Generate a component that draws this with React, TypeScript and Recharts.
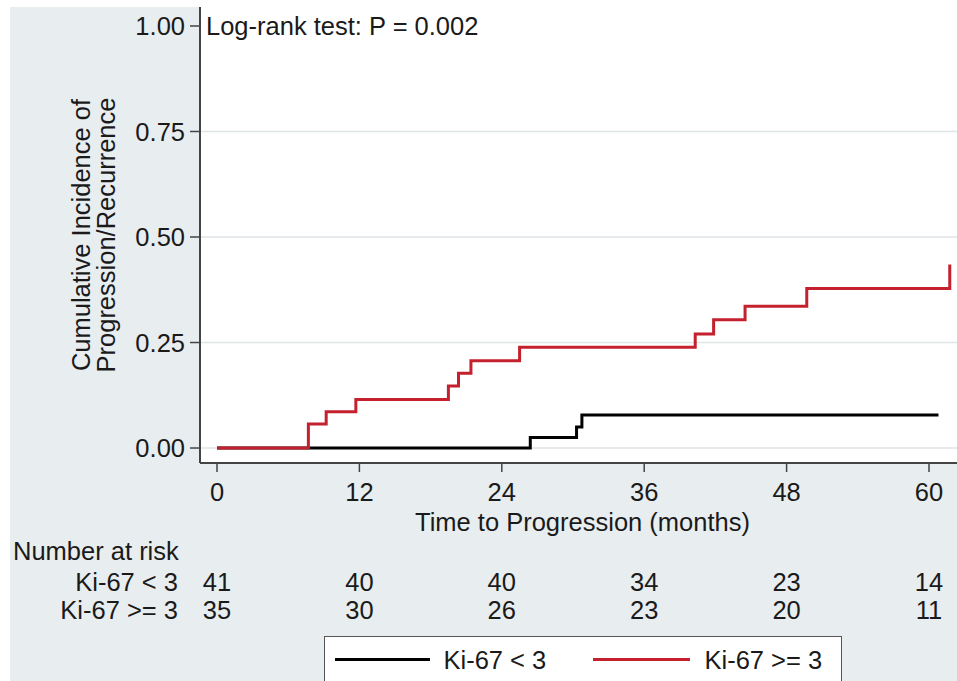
import React from 'react';
import { LineChart, Line, XAxis, YAxis, CartesianGrid, ReferenceLine, Label } from 'recharts';

// ---- data ----
const xTicks = [0, 12, 24, 36, 48, 60];
const yTicks = [0, 0.25, 0.5, 0.75, 1];
const gridValues = [0, 0.25, 0.5, 0.75];

const lowTimes = [0, 26.4, 30.3, 30.75, 60.8];
const lowValues = [0, 0.025, 0.05, 0.078, 0.078];

const highTimes = [0, 7.7, 9.2, 11.7, 19.5, 20.35, 21.4, 25.5, 40.3, 41.85, 44.5, 49.7, 61.75];
const highValues = [0, 0.057, 0.086, 0.115, 0.147, 0.177, 0.207, 0.239, 0.27, 0.304, 0.336, 0.378, 0.435];

const riskLow = [41, 40, 40, 34, 23, 14];
const riskHigh = [35, 30, 26, 23, 20, 11];

const seriesLabels = ['Ki-67 < 3', 'Ki-67 >= 3'];
const riskTitle = 'Number at risk';
const pValueText = 'Log-rank test: P = 0.002';
const xTitle = 'Time to Progression (months)';
const yTitleLines = ['Cumulative Incidence of', 'Progression/Recurrence'];

// ---- styles ----
const COLORS = ['#000000', '#c4202e'];
const TEXT = '#1a1a1a';
const FS = 25.5;
const X_DOMAIN: [number, number] = [-1.4326, 62.36];
const Y_DOMAIN: [number, number] = [-0.0355, 1.045];

const lowData = lowTimes.map((t, i) => ({ t, v: lowValues[i] }));
const highData = highTimes.map((t, i) => ({ t, v: highValues[i] }));

// main x tick: tick value plus the number-at-risk values beneath it
const XTick = (p: any) => {
  const value = p.payload?.value;
  const idx = xTicks.indexOf(value);
  return (
    <g>
      <text x={p.x} y={p.y} dy="0.71em" textAnchor="middle" fontSize={FS} fill={TEXT}>
        {value}
      </text>
      <text x={p.x} y={p.y + 107.6} textAnchor="middle" fontSize={FS} fill={TEXT}>
        {idx >= 0 ? riskLow[idx] : ''}
      </text>
      <text x={p.x} y={p.y + 136} textAnchor="middle" fontSize={FS} fill={TEXT}>
        {idx >= 0 ? riskHigh[idx] : ''}
      </text>
    </g>
  );
};

const gridGenerator = (props: any) => {
  const s = props?.yAxis?.scale;
  if (typeof s === 'function') return gridValues.map((v) => s(v));
  if (s && typeof s.map === 'function') return gridValues.map((v) => s.map(v));
  if (s && typeof s.apply === 'function') return gridValues.map((v) => s.apply(v));
  const off = props?.offset || { top: 7, height: 456 };
  const [d0, d1] = Y_DOMAIN;
  return gridValues.map((v) => off.top + off.height * (1 - (v - d0) / (d1 - d0)));
};

export default function App() {
  return (
    <div
      style={{
        position: 'absolute',
        left: 0,
        top: 0,
        width: 957,
        height: 681,
        overflow: 'hidden',
        background: '#ffffff',
        fontFamily: '"Liberation Sans", Arial, Helvetica, sans-serif',
      }}
    >
      <div style={{ position: 'absolute', left: 10, top: 7, right: 0, bottom: 0, background: '#e8edf0' }} />
      <div style={{ position: 'absolute', left: 0, top: 0 }}>
        <LineChart width={957} height={681} margin={{ top: 7, right: 0, bottom: 144, left: 0 }}>
          <CartesianGrid
            xAxisId="main"
            fill="#ffffff"
            vertical={false}
            stroke="#dfe5e8"
            strokeWidth={1.5}
            horizontalCoordinatesGenerator={gridGenerator}
          />
          <XAxis
            xAxisId="main"
            type="number"
            dataKey="t"
            domain={X_DOMAIN}
            ticks={xTicks}
            allowDataOverflow
            interval={0}
            height={74}
            tickSize={9}
            tickMargin={11}
            axisLine={{ stroke: '#444', strokeWidth: 2 }}
            tickLine={{ stroke: '#444', strokeWidth: 1.5 }}
            tick={XTick}
          >
            <Label
              content={(p: any) => {
                const vb = p.viewBox || { x: 200, y: 463, width: 757, height: 74 };
                return (
                  <g>
                    <text x={vb.x + vb.width / 2 + 4} y={vb.y + 68} textAnchor="middle" fontSize={FS} fill={TEXT}>
                      {xTitle}
                    </text>
                    <text x={vb.x - 187} y={vb.y + 97} textAnchor="start" fontSize={FS} fill={TEXT}>
                      {riskTitle}
                    </text>
                    <text x={vb.x - 22} y={vb.y + 127.6} textAnchor="end" fontSize={FS} fill={TEXT}>
                      {seriesLabels[0]}
                    </text>
                    <text x={vb.x - 22} y={vb.y + 156} textAnchor="end" fontSize={FS} fill={TEXT}>
                      {seriesLabels[1]}
                    </text>
                  </g>
                );
              }}
            />
          </XAxis>
          <YAxis
            type="number"
            domain={Y_DOMAIN}
            ticks={yTicks}
            allowDataOverflow
            width={200}
            tickSize={10}
            tickMargin={5}
            tickFormatter={(v: number) => v.toFixed(2)}
            axisLine={{ stroke: '#444', strokeWidth: 2 }}
            tickLine={{ stroke: '#444', strokeWidth: 1.5 }}
            tick={{ fontSize: FS, fill: TEXT }}
          >
            <Label
              content={(p: any) => {
                const vb = p.viewBox || { x: 0, y: 7, width: 200, height: 456 };
                const cy = vb.y + vb.height / 2;
                const x1 = vb.x + 90;
                const x2 = vb.x + 115;
                return (
                  <g>
                    <text x={x1} y={cy} transform={`rotate(-90, ${x1}, ${cy})`} textAnchor="middle" fontSize={FS} fill={TEXT}>
                      {yTitleLines[0]}
                    </text>
                    <text x={x2} y={cy} transform={`rotate(-90, ${x2}, ${cy})`} textAnchor="middle" fontSize={FS} fill={TEXT}>
                      {yTitleLines[1]}
                    </text>
                  </g>
                );
              }}
            />
          </YAxis>
          <ReferenceLine
            xAxisId="main"
            y={1}
            stroke="none"
            strokeOpacity={0}
            label={{ value: pValueText, position: 'insideLeft', offset: 6, fontSize: FS, fill: TEXT }}
          />
          <Line
            xAxisId="main"
            data={lowData}
            dataKey="v"
            type="stepAfter"
            stroke={COLORS[0]}
            strokeWidth={3}
            dot={false}
            activeDot={false}
            isAnimationActive={false}
          />
          <Line
            xAxisId="main"
            data={highData}
            dataKey="v"
            type="stepAfter"
            stroke={COLORS[1]}
            strokeWidth={3}
            dot={false}
            activeDot={false}
            isAnimationActive={false}
          />
        </LineChart>
      </div>
      <div
        style={{
          position: 'absolute',
          left: 324,
          top: 636,
          width: 518,
          height: 60,
          background: '#ffffff',
          border: '1.5px solid #555',
          boxSizing: 'border-box',
          fontSize: FS,
          color: TEXT,
        }}
      >
        {seriesLabels.map((lab, i) => (
          <React.Fragment key={lab}>
            <div
              style={{
                position: 'absolute',
                left: i === 0 ? 9.5 : 267.5,
                top: 21,
                width: i === 0 ? 95 : 97,
                height: 3,
                background: COLORS[i],
              }}
            />
            <div
              style={{
                position: 'absolute',
                left: i === 0 ? 118.5 : 379.5,
                top: 8,
                lineHeight: '30px',
                whiteSpace: 'nowrap',
              }}
            >
              {lab}
            </div>
          </React.Fragment>
        ))}
      </div>
    </div>
  );
}
